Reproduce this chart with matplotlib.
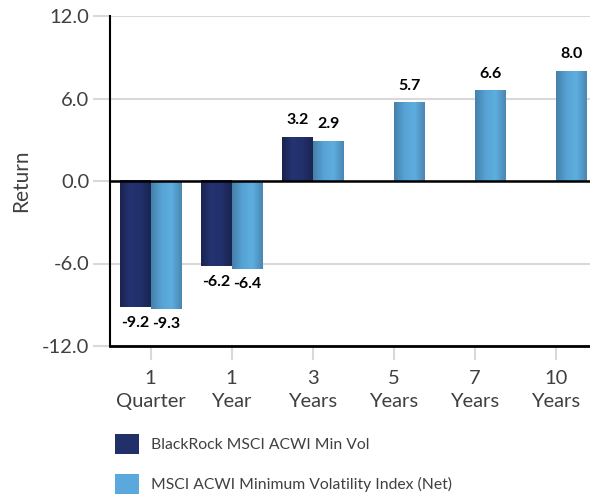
import numpy as np
import matplotlib
matplotlib.use("Agg")
import matplotlib.pyplot as plt
from matplotlib.colors import LinearSegmentedColormap
from matplotlib.patches import Patch

# ---------------- DATA ----------------
periods = ["1\nQuarter", "1\nYear", "3\nYears", "5\nYears", "7\nYears", "10\nYears"]
fund_name = "BlackRock MSCI ACWI Min Vol"
index_name = "MSCI ACWI Minimum Volatility Index (Net)"
fund_returns = [-9.2, -6.2, 3.2, np.nan, np.nan, np.nan]
index_returns = [-9.3, -6.4, 2.9, 5.7, 6.6, 8.0]
y_ticks = [-12.0, -6.0, 0.0, 6.0, 12.0]

# ---------------- STYLE ----------------
plt.rcParams["font.family"] = ["Lato", "DejaVu Sans"]
DARK = "#22306a"
LIGHT = "#5aa8dc"
dark_cmap = LinearSegmentedColormap.from_list("dk", ["#1a2350", "#243372", "#22306c", "#1a2550"])
light_cmap = LinearSegmentedColormap.from_list("lt", ["#4580aa", "#57a2d4", "#5eaee0", "#4a86b2"])
TEXT = "#404040"
BAR_W = 0.38


def gradient_bar(ax, xc, h, cmap):
    grad = np.linspace(0, 1, 64).reshape(1, -1)
    x0, x1 = xc - BAR_W / 2, xc + BAR_W / 2
    ax.imshow(grad, cmap=cmap, aspect="auto", extent=[x0, x1, min(0, h), max(0, h)],
              zorder=2, interpolation="bicubic")


# ---------------- PLOT ----------------
fig = plt.figure(figsize=(5.9, 5.01), dpi=100)
ax = fig.add_axes([110 / 590, 155 / 501, 480 / 590, 330 / 501])

x = np.arange(len(periods))
for xi, f, i in zip(x, fund_returns, index_returns):
    for val, off, cmap in [(f, -BAR_W / 2, dark_cmap), (i, BAR_W / 2, light_cmap)]:
        if np.isnan(val):
            continue
        gradient_bar(ax, xi + off, val, cmap)
        if val >= 0:
            ax.text(xi + off, val + 0.7, f"{val:.1f}", ha="center", va="bottom",
                    fontsize=11.5, fontweight="bold", color="black")
        else:
            ax.text(xi + off, val - 0.6, f"{val:.1f}", ha="center", va="top",
                    fontsize=11.5, fontweight="bold", color="black")

ax.set_xlim(-0.5, 5.42)
ax.set_ylim(-12, 12)
ax.set_yticks(y_ticks)
ax.set_yticklabels([f"{t:.1f}" for t in y_ticks])
ax.set_xticks(x)
ax.set_xticklabels(periods, linespacing=1.45)

ax.grid(axis="y", color="#d9d9d9", linewidth=1.5, zorder=0)
ax.set_axisbelow(True)
ax.axhline(0, color="black", linewidth=1.8, zorder=3)

for s in ["top", "right"]:
    ax.spines[s].set_visible(False)
ax.spines["left"].set_linewidth(1.5)
ax.spines["bottom"].set_linewidth(2)

ax.tick_params(axis="y", length=12, width=1.5, color="#d9d9d9", labelsize=14.5,
               labelcolor=TEXT, pad=3)
ax.tick_params(axis="x", length=10, width=1.5, color="#d9d9d9", labelsize=14.5,
               labelcolor=TEXT, pad=7)
ax.set_ylabel("Return", fontsize=15, color=TEXT, labelpad=8)

handles = [Patch(facecolor=DARK, label=fund_name),
           Patch(facecolor=LIGHT, label=index_name)]
fig.legend(handles=handles, loc="upper left", bbox_to_anchor=(101 / 590, 1 - 420 / 501),
           frameon=False, fontsize=11.3, handlelength=1.55, handleheight=1.55,
           labelspacing=1.3, handletextpad=0.75, labelcolor=TEXT)

fig.savefig("out.png", dpi=100)
